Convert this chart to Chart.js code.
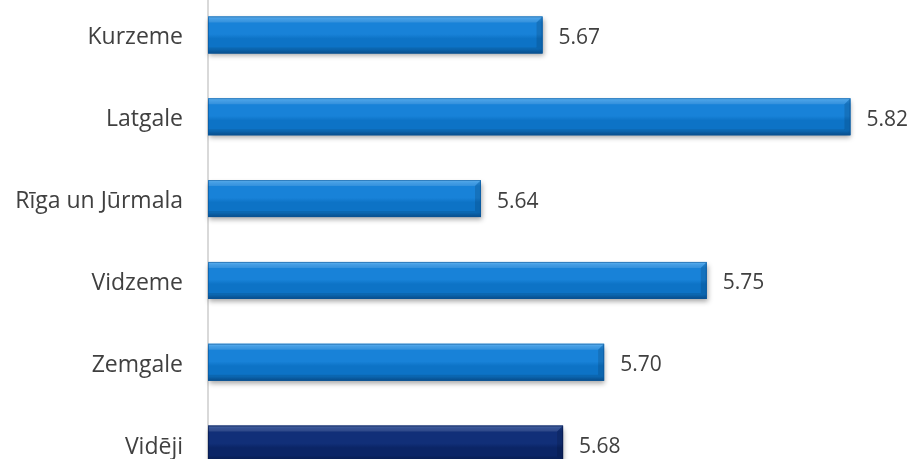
<!DOCTYPE html>
<html>
<head>
<meta charset="utf-8">
<script src="https://cdn.jsdelivr.net/npm/chart.js@4/dist/chart.umd.min.js"></script>
<style>
  html, body { margin: 0; padding: 0; background: #fff; }
  #wrap { position: relative; width: 913px; height: 459px; overflow: hidden; }
  #bars { position: absolute; left: 0; top: -6px; }
</style>
</head>
<body>
<div id="wrap">
  <canvas id="bars" width="913" height="491"></canvas>
</div>
<script>
const regions = ["Kurzeme", "Latgale", "Rīga un Jūrmala", "Vidzeme", "Zemgale", "Vidēji"];
const scores = [5.67, 5.82, 5.64, 5.75, 5.70, 5.68];
const axisMin = 5.507;
const axisMax = 5.85;

const TEXT = "#404040";
const FONT = "'Open Sans', sans-serif";

// light blue for regions, navy for the average row
const palettes = {
  region: { top: "#58b2f1", hi: "#2e93e3", mid: "#1882d8", low: "#0d73c6", edge: "#0a5599" },
  average: { top: "#34589f", hi: "#1c3d88", mid: "#112f78", low: "#0b2566", edge: "#061847" },
};

function paletteFor(i) {
  return regions[i] === "Vidēji" ? palettes.average : palettes.region;
}

// paints the bevelled bars, their shadow and the value labels
const bevelBars = {
  id: "bevelBars",
  afterDatasetsDraw(chart) {
    const ctx = chart.ctx;
    const meta = chart.getDatasetMeta(0);
    meta.data.forEach((bar, i) => {
      const { x, y, base, height } = bar.getProps(["x", "y", "base", "height"], true);
      const x0 = base, x1 = x, yt = y - height / 2, yb = y + height / 2;
      const b = 6;
      const p = paletteFor(i);

      ctx.save();
      ctx.shadowColor = "rgba(0,0,0,0.35)";
      ctx.shadowBlur = 5;
      ctx.shadowOffsetY = 3;
      ctx.shadowOffsetX = 1;
      const g = ctx.createLinearGradient(0, yt, 0, yb);
      g.addColorStop(0, p.top);
      g.addColorStop(0.06, p.hi);
      g.addColorStop(0.16, p.mid);
      g.addColorStop(0.48, p.mid);
      g.addColorStop(0.6, p.low);
      g.addColorStop(0.88, p.low);
      g.addColorStop(1, p.edge);
      ctx.fillStyle = g;
      ctx.fillRect(x0, yt, x1 - x0, yb - yt);
      ctx.restore();

      ctx.save();
      // top face
      ctx.fillStyle = "rgba(255,255,255,0.12)";
      ctx.beginPath();
      ctx.moveTo(x0, yt); ctx.lineTo(x1, yt); ctx.lineTo(x1 - b, yt + b); ctx.lineTo(x0, yt + b);
      ctx.closePath(); ctx.fill();
      // bottom face
      ctx.fillStyle = "rgba(0,0,0,0.10)";
      ctx.beginPath();
      ctx.moveTo(x0, yb); ctx.lineTo(x1, yb); ctx.lineTo(x1 - b, yb - b); ctx.lineTo(x0, yb - b);
      ctx.closePath(); ctx.fill();
      // right face
      ctx.fillStyle = "rgba(0,0,0,0.12)";
      ctx.beginPath();
      ctx.moveTo(x1, yt); ctx.lineTo(x1, yb); ctx.lineTo(x1 - b, yb - b); ctx.lineTo(x1 - b, yt + b);
      ctx.closePath(); ctx.fill();
      // outline
      ctx.strokeStyle = p.edge;
      ctx.globalAlpha = 0.6;
      ctx.lineWidth = 1;
      ctx.strokeRect(x0 + 0.5, yt + 0.5, x1 - x0 - 1, yb - yt - 1);
      ctx.restore();

      ctx.save();
      ctx.fillStyle = TEXT;
      ctx.font = "21px " + FONT;
      ctx.textAlign = "left";
      ctx.textBaseline = "middle";
      ctx.fillText(scores[i].toFixed(2), x1 + 16, y + 3);
      ctx.restore();
    });
  },
};

new Chart(document.getElementById("bars"), {
  type: "bar",
  data: {
    labels: regions,
    datasets: [{
      data: scores,
      base: axisMin,
      backgroundColor: scores.map((v, i) => paletteFor(i).mid),
      borderWidth: 0,
      categoryPercentage: 1,
      barPercentage: 0.452,
    }],
  },
  options: {
    indexAxis: "y",
    responsive: false,
    devicePixelRatio: 1,
    animation: false,
    layout: { autoPadding: false, padding: { left: 0, right: 1, top: 0, bottom: 0 } },
    plugins: { legend: { display: false }, tooltip: { enabled: false } },
    scales: {
      x: {
        display: false,
        min: axisMin,
        max: axisMax,
      },
      y: {
        afterFit(scale) {
          scale.width = 208;
          scale.paddingTop = 0;
          scale.paddingBottom = 0;
        },
        grid: { display: false, drawTicks: false, tickLength: 0 },
        border: { display: true, color: "#d9d9d9", width: 2 },
        ticks: {
          color: TEXT,
          padding: 25,
          labelOffset: 3,
          font: { family: FONT, size: 23 },
        },
      },
    },
  },
  plugins: [bevelBars],
});
</script>
</body>
</html>
